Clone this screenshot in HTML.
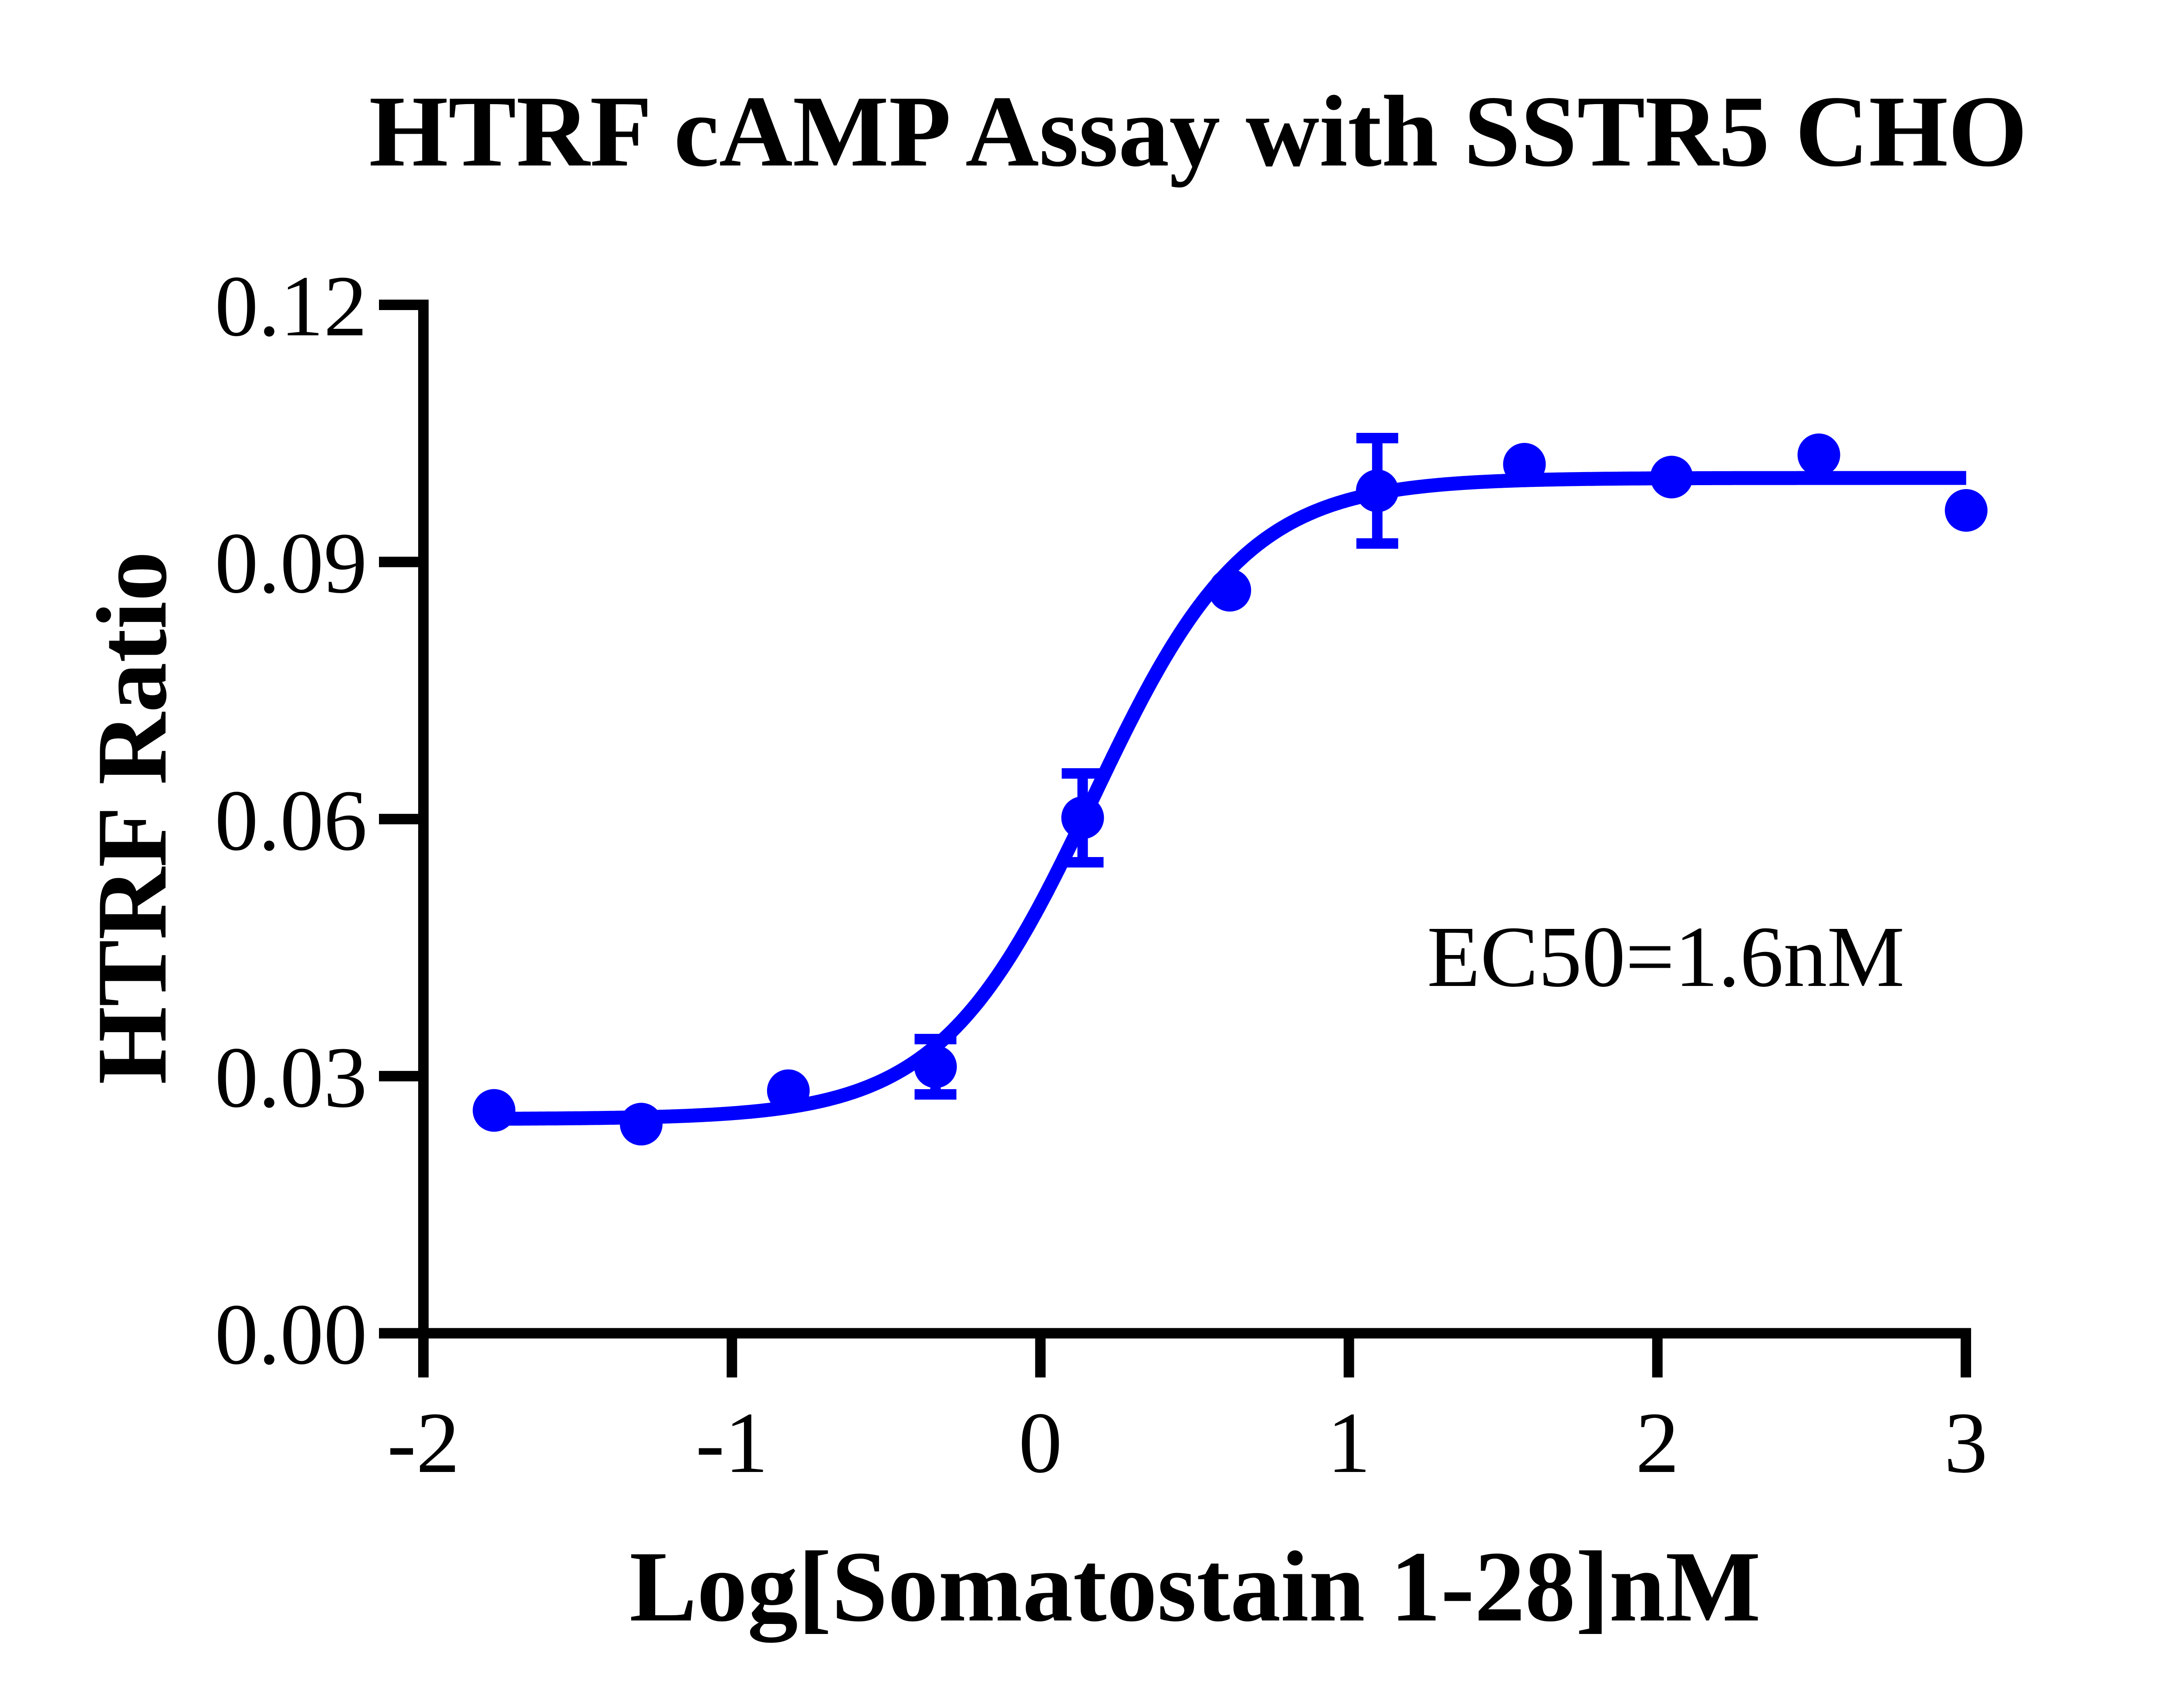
<!DOCTYPE html>
<html>
<head>
<meta charset="utf-8">
<style>
  html, body { margin: 0; padding: 0; background: #ffffff; }
  svg { display: block; }
  text { font-family: "Liberation Serif", "Times New Roman", serif; fill: #000; }
</style>
</head>
<body>
<svg xmlns="http://www.w3.org/2000/svg" width="5084" height="3922" viewBox="0 0 5084 3922">
  <rect x="0" y="0" width="5084" height="3922" fill="#ffffff"/>

  <!-- Title -->
  <text x="847" y="380" font-size="234" font-weight="bold">HTRF cAMP Assay with SSTR5 CHO</text>

  <!-- Axes -->
  <rect x="960" y="688" width="24" height="2475" fill="#000"/>
  <rect x="870" y="3049.5" width="3655" height="24" fill="#000"/>

  <!-- Y ticks -->
  <rect x="870" y="688" width="100" height="24" fill="#000"/>
  <rect x="870" y="1278.4" width="100" height="24" fill="#000"/>
  <rect x="870" y="1868.8" width="100" height="24" fill="#000"/>
  <rect x="870" y="2459.1" width="100" height="24" fill="#000"/>

  <!-- X ticks -->
  <rect x="1668.2" y="3050" width="24" height="113" fill="#000"/>
  <rect x="2376.4" y="3050" width="24" height="113" fill="#000"/>
  <rect x="3084.6" y="3050" width="24" height="113" fill="#000"/>
  <rect x="3792.8" y="3050" width="24" height="113" fill="#000"/>
  <rect x="4501" y="3050" width="24" height="113" fill="#000"/>

  <!-- Y tick labels -->
  <g font-size="200" text-anchor="end">
    <text x="843" y="770">0.12</text>
    <text x="843" y="1360">0.09</text>
    <text x="843" y="1951">0.06</text>
    <text x="843" y="2541">0.03</text>
    <text x="843" y="3131">0.00</text>
  </g>

  <!-- X tick labels -->
  <g font-size="200" text-anchor="middle">
    <text x="972" y="3380">-2</text>
    <text x="1680.2" y="3380">-1</text>
    <text x="2388.4" y="3380">0</text>
    <text x="3096.6" y="3380">1</text>
    <text x="3804.8" y="3380">2</text>
    <text x="4513" y="3380">3</text>
  </g>

  <!-- Axis labels -->
  <text x="1445" y="3721" font-size="232" font-weight="bold">Log[Somatostain 1-28]nM</text>
  <text transform="translate(380,1878) rotate(-90)" text-anchor="middle" font-size="230" font-weight="bold">HTRF Ratio</text>

  <!-- EC50 annotation -->
  <text x="3276" y="2264" font-size="200">EC50=1.6nM</text>

  <!-- Fitted curve -->
  <polyline id="fit" fill="none" stroke="#0000ff" stroke-width="32" stroke-linejoin="round" stroke-linecap="butt"
    points="1134.2,2568.9 1326.1,2567.7 1503.1,2564.7 1680.2,2556.4 1821.8,2540.5 1963.5,2506.2 2034.3,2476.8 2105.1,2435.0 2176.0,2377.0 2246.8,2298.9 2317.6,2198.6 2388.4,2076.2 2459.2,1936.7 2530.0,1789.0 2600.8,1645.1 2671.6,1515.0 2742.4,1405.4 2813.2,1318.7 2884.0,1253.1 2954.8,1205.2 3025.7,1171.3 3096.5,1147.7 3238.1,1120.3 3379.7,1107.8 3592.2,1100.6 3804.6,1098.4 4513.7,1097.5"/>

  <!-- Error bars -->
  <g fill="#0000ff">
    <rect x="2135.6" y="2386" width="24" height="127"/>
    <rect x="2099.6" y="2374" width="96" height="24"/>
    <rect x="2099.6" y="2501" width="96" height="24"/>
    <rect x="2473.4" y="1776" width="24" height="204"/>
    <rect x="2437.4" y="1764" width="96" height="24"/>
    <rect x="2437.4" y="1968" width="96" height="24"/>
    <rect x="3149.8" y="1006" width="24" height="242"/>
    <rect x="3113.8" y="994" width="96" height="24"/>
    <rect x="3113.8" y="1236" width="96" height="24"/>
  </g>

  <!-- Data points -->
  <g fill="#0000ff">
    <circle cx="1134.2" cy="2549.8" r="49"/>
    <circle cx="1472.0" cy="2581.3" r="49"/>
    <circle cx="1809.8" cy="2504.6" r="49"/>
    <circle cx="2147.6" cy="2449.5" r="49"/>
    <circle cx="2485.4" cy="1877.7" r="49"/>
    <circle cx="2823.2" cy="1355.3" r="49"/>
    <circle cx="3161.8" cy="1127.1" r="49"/>
    <circle cx="3499.6" cy="1066.0" r="49"/>
    <circle cx="3837.4" cy="1095.5" r="49"/>
    <circle cx="4175.5" cy="1044.4" r="49"/>
    <circle cx="4513.7" cy="1172.0" r="49"/>
  </g>
</svg>
<script>
(function(){
  var pl = document.getElementById('fit');
  if (!pl) return;
  var pts = [];
  var c = 0.17, h = 1.75;
  for (var x = -1.771; x <= 3.0001; x += 0.005) {
    var xx = Math.min(x, 3.0);
    var frac = 1 / (1 + Math.pow(10, (c - xx) * h));
    var X = 972 + (xx + 2) * 708.2;
    var Y = 2569.5 - 1472.0 * frac;
    pts.push(X.toFixed(1) + ',' + Y.toFixed(1));
  }
  var fracEnd = 1 / (1 + Math.pow(10, (c - 3.0) * h));
  pts.push('4513.7,' + (2569.5 - 1472.0 * fracEnd).toFixed(1));
  pl.setAttribute('points', pts.join(' '));
})();
</script>
</body>
</html>
